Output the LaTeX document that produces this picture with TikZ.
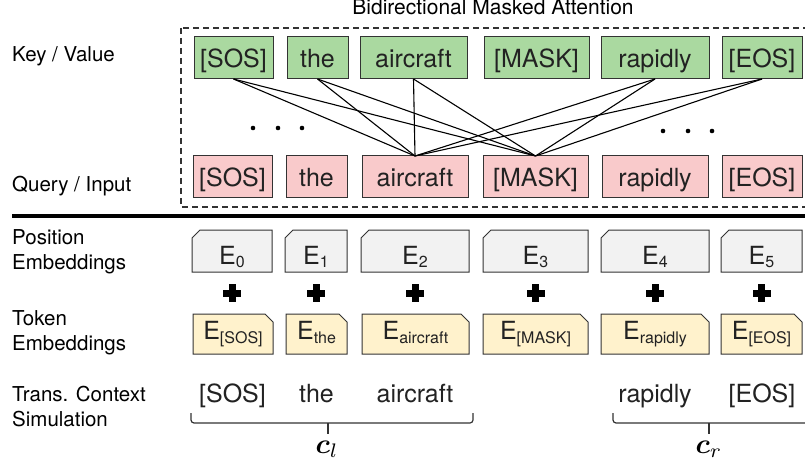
\documentclass[tikz,border=0pt]{standalone}
\usepackage{amsmath}
\usepackage{bm}
\usepackage{fontspec}
\setmainfont{TeX Gyre Heros}
\usetikzlibrary{backgrounds}
\definecolor{kvgreen}{HTML}{AAD9A0}
\definecolor{qpink}{HTML}{F9CACB}
\definecolor{posgray}{HTML}{F2F2F2}
\definecolor{tokyellow}{HTML}{FFF2CC}
\definecolor{edgegray}{HTML}{333333}
\definecolor{txtgray}{HTML}{222222}
\newcommand\subtxt[1]{\raisebox{-3.5pt}{\fontsize{16}{16}\selectfont #1}}
\newcommand\bigmath[1]{\scalebox{2.8}{\fontsize{10}{12}\selectfont $#1$}}
\newcommand\bx[7]{\node[#1, minimum width={(#4-#3)*1pt}, minimum height={(#6-#5)*1pt}] (#2) at ({(#3+#4)/2},{(#5+#6)/2}) {#7};}
\tikzset{
  boxtext/.style={font=\fontsize{25}{30}\selectfont, text=txtgray, inner sep=0pt, outer sep=0pt},
  kvbox/.style={boxtext, draw=edgegray, line width=1pt, fill=kvgreen, text height=20pt, text depth=0pt},
  qbox/.style={boxtext, draw=edgegray, line width=1pt, fill=qpink, text height=20pt, text depth=0pt},
  posbox/.style={boxtext, text height=26pt, text depth=0pt},
  tokbox/.style={boxtext, text height=11pt, text depth=0pt},
  chamedge/.style={draw=edgegray, line width=1pt},
  sidelabel/.style={font=\fontsize{20.5}{25}\selectfont, text=black, inner sep=0pt, anchor=base west},
  ctxtext/.style={font=\fontsize{25}{30}\selectfont, text=txtgray, inner sep=0pt, anchor=base},
  attn/.style={line width=1.1pt, black},
  bracepath/.style={line width=1.2pt, edgegray, rounded corners=3pt},
  plussign/.pic={\fill (-9,-3.5) rectangle (9,3.5); \fill (-3.5,-9) rectangle (3.5,9);}
}
\begin{document}
\begin{tikzpicture}[x=1pt,y=-1pt]
\useasboundingbox (0,0) rectangle (805,465);

% title and dashed frame
\node[font=\fontsize{21}{24}\selectfont, text=black, inner sep=0pt, anchor=base] (title) at (493,15) {Bidirectional Masked Attention};
\draw[dashed, dash pattern=on 6pt off 4pt, line width=1.4pt, edgegray] (181,28) rectangle (806,207);

% side labels
\node[sidelabel] (kv) at (12,61.7) {Key / Value};
\node[sidelabel] (qi) at (12,191) {Query / Input};
\node[sidelabel] (pe1) at (12,244.3) {Position};
\node[sidelabel] (pe2) at (12,269.3) {Embeddings};
\node[sidelabel] (te1) at (12,325.7) {Token};
\node[sidelabel] (te2) at (12,350.7) {Embeddings};
\node[sidelabel] (tc1) at (12,401) {Trans. Context};
\node[sidelabel] (tc2) at (12,426) {Simulation};

% key / value row
\bx{kvbox}{k1}{194}{273}{37}{79}{[SOS]}
\bx{kvbox}{k2}{287}{348}{37}{79}{the}
\bx{kvbox}{k3}{360}{467}{37}{79}{aircraft}
\bx{kvbox}{k4}{484}{589}{37}{79}{[MASK]}
\bx{kvbox}{k5}{601}{709}{37}{79}{rapidly}
\bx{kvbox}{k6}{722}{802}{37}{79}{[EOS]}

% query / input row
\bx{qbox}{q1}{193}{272}{156}{197}{[SOS]}
\bx{qbox}{q2}{286}{347}{156}{197}{the}
\bx{qbox}{q3}{362}{468}{156}{197}{aircraft}
\bx{qbox}{q4}{483}{588}{156}{197}{[MASK]}
\bx{qbox}{q5}{602}{708}{156}{197}{rapidly}
\bx{qbox}{q6}{722}{802}{156}{197}{[EOS]}

% attention connections
\foreach \k in {k1,k2,k3,k5,k6}
  \foreach \q in {q3,q4}
    \draw[attn] (\k.south) -- (\q.north);

% ellipses
\foreach \x in {253,278,302} \fill (\x,128) circle (2.3pt);
\foreach \x in {663,688,712} \fill (\x,131) circle (2.3pt);

% separator
\draw[line width=3.6pt, black] (12,216) -- (806,216);

% position embeddings
\bx{posbox}{p0}{192}{272}{230}{272}{E\subtxt{0}}
\bx{posbox}{p1}{285}{347}{230}{272}{E\subtxt{1}}
\bx{posbox}{p2}{361}{469}{230}{272}{E\subtxt{2}}
\bx{posbox}{p3}{483}{588}{230}{272}{E\subtxt{3}}
\bx{posbox}{p4}{601}{709}{230}{272}{E\subtxt{4}}
\bx{posbox}{p5}{721}{802}{230}{272}{E\subtxt{5}}

% token embeddings
\bx{tokbox}{t0}{193}{273}{314}{354}{E\subtxt{[SOS]}}
\bx{tokbox}{t1}{286}{347}{314}{354}{E\subtxt{the}}
\bx{tokbox}{t2}{362}{469}{314}{354}{E\subtxt{aircraft}}
\bx{tokbox}{t3}{483}{588}{314}{354}{E\subtxt{[MASK]}}
\bx{tokbox}{t4}{601}{709}{314}{354}{E\subtxt{rapidly}}
\bx{tokbox}{t5}{721}{802}{314}{354}{E\subtxt{[EOS]}}

\begin{scope}[on background layer]
  \foreach \n in {p0,p1,p2,p3,p4,p5}
    \draw[chamedge, fill=posgray] (\n.south west) -- (\n.south east) -- (\n.north east)
      -- ([xshift=8pt]\n.north west) -- ([yshift=-8pt]\n.north west) -- cycle;
  \foreach \n in {t0,t1,t2,t3,t4,t5}
    \draw[chamedge, fill=tokyellow] (\n.south west) -- (\n.south east) -- ([yshift=-8pt]\n.north east)
      -- ([xshift=-8pt]\n.north east) -- (\n.north west) -- cycle;
\end{scope}

% plus signs
\foreach \n in {p0,p1,p2,p3,p4,p5}
  \path (\n.south) ++(0,21) pic {plussign};

% transformer context simulation
\node[ctxtext] (s0) at (232.5,402) {[SOS]};
\node[ctxtext] (s1) at (316.5,402) {the};
\node[ctxtext] (s2) at (415,402) {aircraft};
\node[ctxtext] (s4) at (655,402) {rapidly};
\node[ctxtext] (s5) at (762,402) {[EOS]};

% braces
\draw[bracepath] (191,413) -- (191,423) -- (473,423) -- (473,413);
\draw[line width=1.2pt, edgegray] (328,423) -- (328,434);
\draw[bracepath] (613,413) -- (613,423) -- (808,423) -- (808,413);
\draw[line width=1.2pt, edgegray] (709,423) -- (709,434);
\node[inner sep=0pt, anchor=base] (cl) at (327,453) {\bigmath{\bm{c}_l}};
\node[inner sep=0pt, anchor=base] (cr) at (709,453) {\bigmath{\bm{c}_r}};
\end{tikzpicture}
\end{document}
